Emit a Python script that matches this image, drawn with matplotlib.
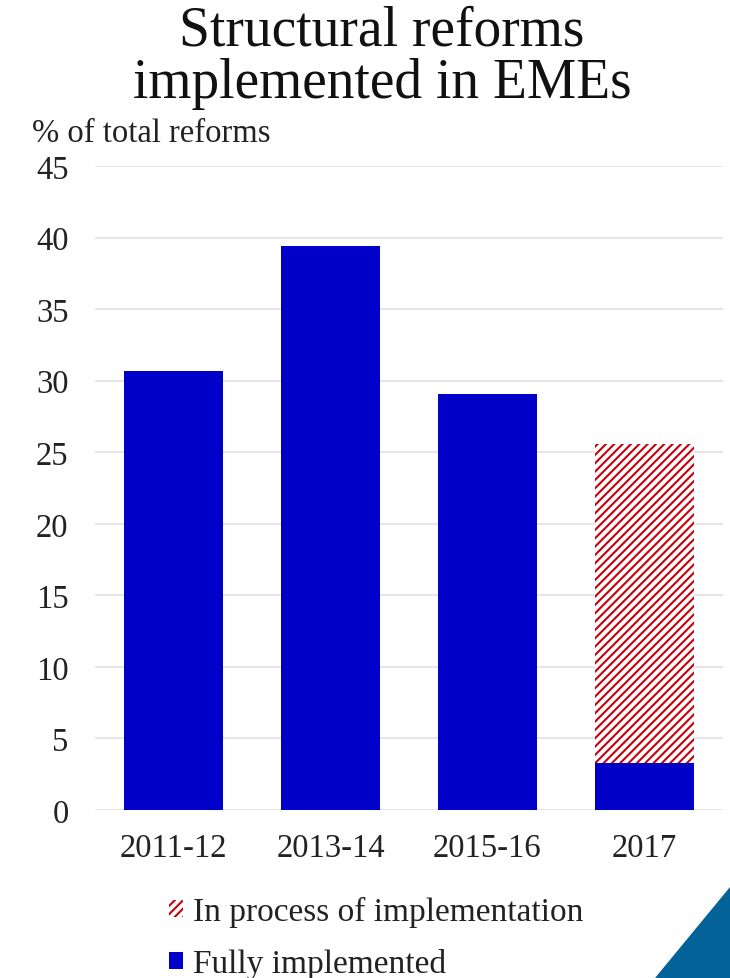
import numpy as np
import matplotlib.pyplot as plt
from matplotlib.patches import Polygon, Patch

plt.rcParams['font.family'] = ['Liberation Serif', 'DejaVu Serif']
plt.rcParams['hatch.linewidth'] = 1.5

periods = ['2011-12', '2013-14', '2015-16', '2017']
fully = [30.7, 39.4, 29.1, 3.3]
in_process = [0, 0, 0, 22.3]
yticks = [0, 5, 10, 15, 20, 25, 30, 35, 40, 45]

blue = '#0000c8'
red = '#c8000a'
txt = '#222222'

fig = plt.figure(figsize=(7.3, 9.79), dpi=100)
ax = fig.add_axes([95/730, 1 - 811/979, 628/730, (811-167)/979])

x = np.arange(len(periods))
ax.bar(x, fully, width=0.625, color=blue, zorder=3)
ax.bar(x, in_process, width=0.625, bottom=fully, color='white',
       edgecolor=red, hatch='////', linewidth=0, zorder=3)

ax.set_xlim(-0.5, 3.5)
ax.set_ylim(0, 45)
ax.set_yticks(yticks)
ax.set_xticks(x)
ax.set_xticklabels(periods)
ax.grid(axis='y', color='#e6e6e6', linewidth=1.5, zorder=0)
for s in ax.spines.values():
    s.set_visible(False)
ax.tick_params(length=0, labelsize=23.5, colors=txt)
ax.tick_params(axis='x', pad=16)
ax.tick_params(axis='y', pad=19)

fig.text(382/730, 1 - 58/979, 'Structural reforms\nimplemented in EMEs', ha='center',
         va='center', fontsize=40, color='#111111', linespacing=1.0)
fig.text(32/730, 1 - 134/979, '% of total reforms', ha='left', va='center',
         fontsize=23.5, color=txt)

handles = [Patch(facecolor='white', edgecolor=red, hatch='////', linewidth=0),
           Patch(facecolor=blue)]
fig.legend(handles, ['In process of implementation', 'Fully implemented'],
           loc='upper left', bbox_to_anchor=(146/730, 1 - 874/979), frameon=False,
           fontsize=24, handlelength=0.42, handleheight=0.42, handletextpad=0.3,
           labelspacing=0.62, labelcolor=txt, borderpad=0.2)

tri = Polygon([[655/730, 0], [1, 0], [1, 1 - 888/979]], closed=True,
              transform=fig.transFigure, color='#036399')
fig.patches.append(tri)

fig.savefig('out.png', dpi=100)
